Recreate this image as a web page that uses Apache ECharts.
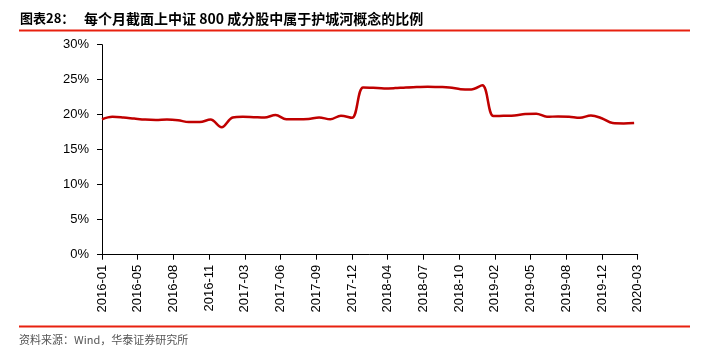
<!DOCTYPE html>
<html>
<head>
<meta charset="utf-8">
<script src="https://cdn.jsdelivr.net/npm/echarts@6/dist/echarts.min.js"></script>
<style>
html,body{margin:0;padding:0;background:#fff;}
#chart{width:720px;height:357px;}
</style>
</head>
<body>
<div id="chart"></div>
<script>
// Month-end observation months (2016-01 .. 2020-02)
var months = [
  "2016-01","2016-02","2016-03","2016-04","2016-05","2016-06","2016-07","2016-08","2016-09","2016-10","2016-11","2016-12",
  "2017-01","2017-02","2017-03","2017-04","2017-05","2017-06","2017-07","2017-08","2017-09","2017-10","2017-11","2017-12",
  "2018-01","2018-02","2018-03","2018-04","2018-05","2018-06","2018-07","2018-08","2018-09","2018-10","2018-11","2018-12",
  "2019-01","2019-02","2019-03","2019-04","2019-05","2019-06","2019-07","2019-08","2019-09","2019-10","2019-11","2019-12",
  "2020-01","2020-02"
];
// Share of CSI 800 constituents in the "moat" concept (%)
var ratio = [
  19.35,19.7,19.6,19.45,19.3,19.25,19.3,19.2,18.95,18.95,19.3,18.2,
  19.6,19.7,19.65,19.6,19.95,19.35,19.35,19.4,19.6,19.35,19.85,19.55,
  23.9,23.85,23.75,23.8,23.9,23.95,24.0,23.95,23.9,23.65,23.6,24.2,
  19.8,19.85,19.9,20.1,20.15,19.7,19.75,19.7,19.55,19.9,19.5,18.8,
  18.75,18.8
];
// x-axis tick labels (date axis, one tick every 100 days from 2016-01-31)
var xTickLabels = ["2016-01","2016-05","2016-08","2016-11","2017-03","2017-06","2017-09","2017-12",
  "2018-04","2018-07","2018-10","2019-02","2019-05","2019-08","2019-12","2020-03"];
var xTickStepDays = 100;
var yTicks = [0,5,10,15,20,25,30];

var titleLabel = "图表28：";
var titleText = "每个月截面上中证 800 成分股中属于护城河概念的比例";
var sourceText = "资料来源：Wind，华泰证券研究所";

function monthEnd(m){
  var p = m.split("-");
  return Date.UTC(+p[0], +p[1], 0);
}
var t0 = monthEnd(months[0]);
var DAY = 86400000;
var seriesData = months.map(function(m,i){
  return [Math.round((monthEnd(m)-t0)/DAY), ratio[i]];
});

var chart = echarts.init(document.getElementById('chart'), null, {renderer:'canvas'});
var axisFont = 'Arial, "Liberation Sans", sans-serif';
chart.setOption({
  animation:false,
  backgroundColor:'#fff',
  grid:{left:102, top:44.7, right:82.3, bottom:102.3},
  xAxis:{
    type:'value',
    min:0,
    max:xTickStepDays*(xTickLabels.length-1),
    interval:xTickStepDays,
    splitLine:{show:false},
    axisLine:{lineStyle:{color:'#000',width:1}},
    axisTick:{show:true,length:5,lineStyle:{color:'#000'}},
    axisLabel:{
      rotate:90, margin:10, color:'#000', fontSize:13, fontFamily:axisFont,
      formatter:function(v){ return xTickLabels[Math.round(v/xTickStepDays)] || ''; }
    }
  },
  yAxis:{
    type:'value',
    min:yTicks[0], max:yTicks[yTicks.length-1], interval:yTicks[1]-yTicks[0],
    splitLine:{show:false},
    axisLine:{show:true,lineStyle:{color:'#000',width:1}},
    axisTick:{show:true,length:5,lineStyle:{color:'#000'}},
    axisLabel:{margin:13,color:'#000',fontSize:13,fontFamily:axisFont,formatter:'{value}%'}
  },
  series:[{
    type:'line',
    data:seriesData,
    smooth:0.35,
    showSymbol:false,
    lineStyle:{color:'#c00000',width:2.5}
  }],
  graphic:[
    {type:'text',left:20,top:12,style:{text:titleLabel,fill:'#000',font:'bold 13px "Noto Sans CJK SC", sans-serif'}},
    {type:'text',left:84,top:11.5,style:{text:titleText,fill:'#000',font:'bold 14px "Noto Sans CJK SC", sans-serif'}},
    {type:'rect',shape:{x:19,y:29.5,width:671,height:2},style:{fill:'#e8210f'}},
    {type:'rect',shape:{x:19,y:325.5,width:671,height:2},style:{fill:'#e8210f'}},
    {type:'text',left:19,top:334,style:{text:sourceText,fill:'#555',font:'11px "Noto Sans CJK SC", sans-serif'}}
  ]
});
</script>
</body>
</html>
